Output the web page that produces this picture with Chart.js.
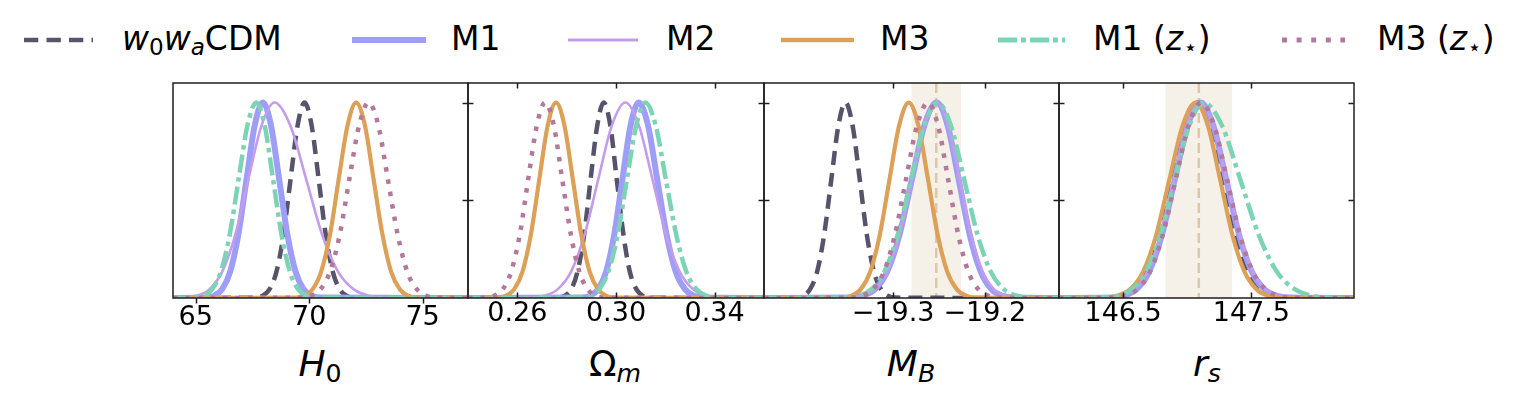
<!DOCTYPE html>
<html><head><meta charset="utf-8">
<script src="https://cdn.jsdelivr.net/npm/chart.js@4.4.0/dist/chart.umd.min.js"></script>
<style>
html,body{margin:0;padding:0;background:#fff;}
body{width:1528px;height:395px;position:relative;overflow:hidden;font-family:'DejaVu Sans',sans-serif;color:#000;}
.ls{position:absolute;top:33px;}
.lt{position:absolute;top:22px;font-size:33px;line-height:1;white-space:nowrap;}
.ax{position:absolute;top:346px;font-size:36px;line-height:1;white-space:nowrap;transform:translateX(-50%);}
sub{font-size:70%;vertical-align:-0.22em;line-height:0;}
i{font-style:italic;}
</style></head>
<body>
<!-- legend -->
<svg class="ls" style="left:24px" width="72" height="14"><line x1="0" y1="7" x2="69" y2="7" stroke="#56536b" stroke-width="4.5" stroke-dasharray="14.3 8.2"/></svg>
<div class="lt" style="left:122px"><i>w</i><sub>0</sub><i>w</i><sub><i>a</i></sub>CDM</div>
<svg class="ls" style="left:352px" width="76" height="14"><line x1="0" y1="7" x2="74" y2="7" stroke="#9e9ef8" stroke-width="6"/></svg>
<div class="lt" style="left:451px">M1</div>
<svg class="ls" style="left:568px" width="72" height="14"><line x1="0" y1="7" x2="70" y2="7" stroke="#c49cea" stroke-width="2.8"/></svg>
<div class="lt" style="left:666px">M2</div>
<svg class="ls" style="left:781px" width="75" height="14"><line x1="0" y1="7" x2="73" y2="7" stroke="#dda058" stroke-width="4.5"/></svg>
<div class="lt" style="left:880px">M3</div>
<svg class="ls" style="left:998px" width="70" height="14"><line x1="0" y1="7" x2="67" y2="7" stroke="#7dd3b5" stroke-width="5" stroke-dasharray="19 4 5 4"/></svg>
<div class="lt" style="left:1093px">M1 (<i>z</i><sub>⋆</sub>)</div>
<svg class="ls" style="left:1282px" width="66" height="14"><line x1="0" y1="7" x2="63" y2="7" stroke="#b4789c" stroke-width="5" stroke-dasharray="5 9.6"/></svg>
<div class="lt" style="left:1377px">M3 (<i>z</i><sub>⋆</sub>)</div>
<!-- axis labels -->
<div class="ax" style="left:320px"><i>H</i><sub>0</sub></div>
<div class="ax" style="left:615px">Ω<sub><i>m</i></sub></div>
<div class="ax" style="left:911px"><i>M</i><sub><i>B</i></sub></div>
<div class="ax" style="left:1207px"><i>r</i><sub><i>s</i></sub></div>
<script>
// ---------------- data ----------------
const seriesNames = ['w0waCDM', 'M1', 'M2', 'M3', 'M1 (z*)', 'M3 (z*)'];

// H0 panel
const h0Ticks = [65, 70, 75];
const h0TickLabels = ['65', '70', '75'];
const H0_w0wa = [[64,0],[67.63,0.002],[67.94,0.011],[68.25,0.044],[68.56,0.135],[68.87,0.325],[69.18,0.607],[69.49,0.882],[69.80,1],[70.11,0.882],[70.42,0.607],[70.73,0.325],[71.04,0.135],[71.35,0.044],[71.66,0.011],[71.97,0.002],[77,0]];
const H0_M1 = [[64,0],[65.44,0.002],[65.80,0.011],[66.16,0.044],[66.52,0.135],[66.88,0.325],[67.24,0.607],[67.60,0.882],[67.96,1],[68.32,0.882],[68.68,0.607],[69.04,0.325],[69.40,0.135],[69.76,0.044],[70.12,0.011],[70.48,0.002],[77,0]];
const H0_M2 = [[64,0],[64.45,0.002],[65.02,0.011],[65.60,0.044],[66.17,0.135],[66.75,0.325],[67.32,0.607],[67.90,0.882],[68.47,1],[69.17,0.882],[69.87,0.607],[70.57,0.325],[71.27,0.135],[71.97,0.044],[72.67,0.011],[73.37,0.002],[77,0]];
const H0_M3 = [[64,0],[69.38,0.002],[69.76,0.011],[70.15,0.044],[70.53,0.135],[70.92,0.325],[71.30,0.607],[71.69,0.882],[72.07,1],[72.46,0.882],[72.84,0.607],[73.23,0.325],[73.61,0.135],[74.00,0.044],[74.38,0.011],[74.77,0.002],[77,0]];
const H0_M1z = [[64,0],[64.94,0.002],[65.33,0.011],[65.72,0.044],[66.11,0.135],[66.50,0.325],[66.89,0.607],[67.28,0.882],[67.67,1],[68.04,0.882],[68.41,0.607],[68.78,0.325],[69.15,0.135],[69.52,0.044],[69.89,0.011],[70.26,0.002],[77,0]];
const H0_M3z = [[64,0],[69.65,0.002],[70.07,0.011],[70.50,0.044],[70.92,0.135],[71.35,0.325],[71.77,0.607],[72.20,0.882],[72.62,1],[73.05,0.882],[73.47,0.607],[73.90,0.325],[74.32,0.135],[74.75,0.044],[75.17,0.011],[75.60,0.002],[77,0]];

// Omega_m panel
const omTicks = [0.26, 0.30, 0.34];
const omTickLabels = ['0.26', '0.30', '0.34'];
const Om_w0wa = [[0.24,0],[0.2765,0.002],[0.2791,0.011],[0.2818,0.044],[0.2844,0.135],[0.2871,0.325],[0.2897,0.607],[0.2924,0.882],[0.2950,1],[0.2977,0.882],[0.3003,0.607],[0.3030,0.325],[0.3056,0.135],[0.3083,0.044],[0.3109,0.011],[0.3136,0.002],[0.36,0]];
const Om_M1 = [[0.24,0],[0.2861,0.002],[0.2894,0.011],[0.2927,0.044],[0.2960,0.135],[0.2993,0.325],[0.3026,0.607],[0.3059,0.882],[0.3092,1],[0.3130,0.882],[0.3167,0.607],[0.3205,0.325],[0.3242,0.135],[0.3280,0.044],[0.3317,0.011],[0.3355,0.002],[0.36,0]];
const Om_M2 = [[0.24,0],[0.2653,0.002],[0.2708,0.011],[0.2763,0.044],[0.2818,0.135],[0.2873,0.325],[0.2928,0.607],[0.2983,0.882],[0.3038,1],[0.3093,0.882],[0.3148,0.607],[0.3203,0.325],[0.3258,0.135],[0.3313,0.044],[0.3368,0.011],[0.3423,0.002],[0.36,0]];
const Om_M3 = [[0.24,0],[0.2519,0.002],[0.2553,0.011],[0.2587,0.044],[0.2621,0.135],[0.2655,0.325],[0.2689,0.607],[0.2723,0.882],[0.2757,1],[0.2791,0.882],[0.2825,0.607],[0.2859,0.325],[0.2893,0.135],[0.2927,0.044],[0.2961,0.011],[0.2995,0.002],[0.36,0]];
const Om_M1z = [[0.24,0],[0.2857,0.002],[0.2894,0.011],[0.2932,0.044],[0.2969,0.135],[0.3007,0.325],[0.3044,0.607],[0.3082,0.882],[0.3119,1],[0.3161,0.882],[0.3202,0.607],[0.3244,0.325],[0.3285,0.135],[0.3327,0.044],[0.3368,0.011],[0.3410,0.002],[0.36,0]];
const Om_M3z = [[0.24,0],[0.2472,0.002],[0.2506,0.011],[0.2541,0.044],[0.2575,0.135],[0.2610,0.325],[0.2644,0.607],[0.2679,0.882],[0.2713,1],[0.2748,0.882],[0.2782,0.607],[0.2817,0.325],[0.2851,0.135],[0.2886,0.044],[0.2920,0.011],[0.2955,0.002],[0.36,0]];

// M_B panel
const mbTicks = [-19.3, -19.2];
const mbTickLabels = ['\u221219.3', '\u221219.2'];
const mbBand = [-19.253, 0.027];
const MB_w0wa = [[-19.441,0],[-19.4063,0.002],[-19.3985,0.011],[-19.3908,0.044],[-19.3830,0.135],[-19.3753,0.325],[-19.3675,0.607],[-19.3598,0.882],[-19.3520,1],[-19.3443,0.882],[-19.3365,0.607],[-19.3288,0.325],[-19.3210,0.135],[-19.3133,0.044],[-19.3055,0.011],[-19.2978,0.002],[-19.119,0]];
const MB_M1 = [[-19.441,0],[-19.3470,0.002],[-19.3335,0.011],[-19.3200,0.044],[-19.3065,0.135],[-19.2930,0.325],[-19.2795,0.607],[-19.2660,0.882],[-19.2525,1],[-19.2405,0.882],[-19.2285,0.607],[-19.2165,0.325],[-19.2045,0.135],[-19.1925,0.044],[-19.1805,0.011],[-19.1685,0.002],[-19.119,0]];
const MB_M2 = [[-19.441,0],[-19.3470,0.002],[-19.3335,0.011],[-19.3200,0.044],[-19.3065,0.135],[-19.2930,0.325],[-19.2795,0.607],[-19.2660,0.882],[-19.2525,1],[-19.2400,0.882],[-19.2275,0.607],[-19.2150,0.325],[-19.2025,0.135],[-19.1900,0.044],[-19.1775,0.011],[-19.1650,0.002],[-19.119,0]];
const MB_M3 = [[-19.441,0],[-19.3565,0.002],[-19.3460,0.011],[-19.3355,0.044],[-19.3250,0.135],[-19.3145,0.325],[-19.3040,0.607],[-19.2935,0.882],[-19.2830,1],[-19.2725,0.882],[-19.2620,0.607],[-19.2515,0.325],[-19.2410,0.135],[-19.2305,0.044],[-19.2200,0.011],[-19.2095,0.002],[-19.119,0]];
const MB_M1z = [[-19.441,0],[-19.3530,0.002],[-19.3385,0.011],[-19.3240,0.044],[-19.3095,0.135],[-19.2950,0.325],[-19.2805,0.607],[-19.2660,0.882],[-19.2515,1],[-19.2370,0.882],[-19.2225,0.607],[-19.2080,0.325],[-19.1935,0.135],[-19.1790,0.044],[-19.1645,0.011],[-19.1500,0.002],[-19.119,0]];
const MB_M3z = [[-19.441,0],[-19.346,0.002],[-19.334,0.011],[-19.322,0.044],[-19.310,0.135],[-19.298,0.325],[-19.286,0.607],[-19.274,0.882],[-19.262,1],[-19.251,0.882],[-19.240,0.607],[-19.229,0.325],[-19.218,0.135],[-19.207,0.044],[-19.196,0.011],[-19.185,0.002],[-19.119,0]];

// r_s panel
const rsTicks = [146.5, 147.5];
const rsTickLabels = ['146.5', '147.5'];
const rsBand = [147.09, 0.26];
const RS_w0wa = [[146,0],[146.398,0.002],[146.495,0.011],[146.593,0.044],[146.690,0.135],[146.788,0.325],[146.885,0.607],[146.983,0.882],[147.080,1],[147.178,0.882],[147.275,0.607],[147.373,0.325],[147.470,0.135],[147.568,0.044],[147.665,0.011],[147.763,0.002],[148.3,0]];
const RS_M1 = [[146,0],[146.403,0.002],[146.503,0.011],[146.603,0.044],[146.703,0.135],[146.803,0.325],[146.903,0.607],[147.003,0.882],[147.103,1],[147.203,0.882],[147.303,0.607],[147.403,0.325],[147.503,0.135],[147.603,0.044],[147.703,0.011],[147.803,0.002],[148.3,0]];
const RS_M2 = [[146,0],[146.383,0.002],[146.485,0.011],[146.588,0.044],[146.690,0.135],[146.793,0.325],[146.895,0.607],[146.998,0.882],[147.100,1],[147.203,0.882],[147.305,0.607],[147.408,0.325],[147.510,0.135],[147.613,0.044],[147.715,0.011],[147.818,0.002],[148.3,0]];
const RS_M3 = [[146,0],[146.349,0.002],[146.451,0.011],[146.554,0.044],[146.656,0.135],[146.759,0.325],[146.861,0.607],[146.964,0.882],[147.066,1],[147.161,0.882],[147.256,0.607],[147.351,0.325],[147.446,0.135],[147.541,0.044],[147.636,0.011],[147.731,0.002],[148.3,0]];
const RS_M1z = [[146,0],[146.341,0.002],[146.453,0.011],[146.566,0.044],[146.678,0.135],[146.791,0.325],[146.903,0.607],[147.016,0.882],[147.128,1],[147.271,0.882],[147.413,0.607],[147.556,0.325],[147.698,0.135],[147.841,0.044],[147.983,0.011],[148.126,0.002],[148.3,0]];
const RS_M3z = [[146,0],[146.41,0.002],[146.51,0.011],[146.61,0.044],[146.71,0.135],[146.81,0.325],[146.91,0.607],[147.01,0.882],[147.11,1],[147.21,0.882],[147.31,0.607],[147.41,0.325],[147.51,0.135],[147.61,0.044],[147.71,0.011],[147.81,0.002],[148.3,0]];

const yTickVals = [0.5, 1.0];

// ---------------- styles ----------------
const seriesStyles = [
  {color:'#56536b', width:4.5, dash:[14,8]},
  {color:'#9e9ef8', width:6,   dash:[]},
  {color:'#c49cea', width:2.6, dash:[]},
  {color:'#dda058', width:4.2, dash:[]},
  {color:'#7dd3b5', width:4.5, dash:[18,5,4.5,5]},
  {color:'#b4789c', width:4.5, dash:[4.5,8]}
];

const panels = [
  {left:173, right:468, xMin:64, xMax:77, ticks:h0Ticks, labels:h0TickLabels, curves:[H0_w0wa,H0_M1,H0_M2,H0_M3,H0_M1z,H0_M3z], band:null, outward:true, leftTicks:false},
  {left:468, right:764, xMin:0.24, xMax:0.36, ticks:omTicks, labels:omTickLabels, curves:[Om_w0wa,Om_M1,Om_M2,Om_M3,Om_M1z,Om_M3z], band:null, outward:false, leftTicks:true},
  {left:764, right:1059, xMin:-19.441, xMax:-19.119, ticks:mbTicks, labels:mbTickLabels, curves:[MB_w0wa,MB_M1,MB_M2,MB_M3,MB_M1z,MB_M3z], band:mbBand, outward:false, leftTicks:true},
  {left:1059, right:1354, xMin:146.0, xMax:148.3, ticks:rsTicks, labels:rsTickLabels, curves:[RS_w0wa,RS_M1,RS_M2,RS_M3,RS_M1z,RS_M3z], band:rsBand, outward:false, leftTicks:true}
];

const TL = 5.5;
const framePlugin = {
  id: 'frame',
  beforeDatasetsDraw(chart, args, o) {
    if (!o.band) return;
    const {ctx, chartArea: a} = chart;
    const x = chart.scales.x;
    const x0 = x.getPixelForValue(o.band[0] - o.band[1]);
    const x1 = x.getPixelForValue(o.band[0] + o.band[1]);
    const xc = x.getPixelForValue(o.band[0]);
    ctx.save();
    ctx.fillStyle = '#f5f1e8';
    ctx.fillRect(x0, a.top, x1 - x0, a.bottom - a.top);
    ctx.strokeStyle = '#dcc8a4';
    ctx.lineWidth = 2.5;
    ctx.setLineDash([10, 5]);
    ctx.beginPath(); ctx.moveTo(xc, a.top); ctx.lineTo(xc, a.bottom); ctx.stroke();
    ctx.restore();
  },
  afterDatasetsDraw(chart, args, o) {
    const {ctx, chartArea: a} = chart;
    const x = chart.scales.x, y = chart.scales.y;
    ctx.save();
    ctx.strokeStyle = '#1e1e1e';
    ctx.lineWidth = 1.5;
    ctx.setLineDash([]);
    ctx.strokeRect(a.left, a.top, a.right - a.left, a.bottom - a.top);
    ctx.beginPath();
    o.ticks.forEach(v => {
      const px = Math.round(x.getPixelForValue(v)) + 0.5;
      if (o.outward) { ctx.moveTo(px, a.bottom); ctx.lineTo(px, a.bottom + TL); }
      else {
        ctx.moveTo(px, a.bottom); ctx.lineTo(px, a.bottom - TL);
        ctx.moveTo(px, a.top); ctx.lineTo(px, a.top + TL);
      }
    });
    yTickVals.forEach(v => {
      const py = Math.round(y.getPixelForValue(v)) + 0.5;
      if (o.leftTicks) { ctx.moveTo(a.left, py); ctx.lineTo(a.left + TL, py); }
      ctx.moveTo(a.right, py); ctx.lineTo(a.right - TL, py);
    });
    ctx.stroke();
    ctx.restore();
  }
};

const PAD = 12, AXH = 50, TOP = 83, PLOT_H = 215;
panels.forEach(p => {
  const w = p.right - p.left + 2 * PAD, h = PAD + PLOT_H + AXH;
  const cv = document.createElement('canvas');
  cv.width = w; cv.height = h;
  cv.style.cssText = `position:absolute;left:${p.left - PAD}px;top:${TOP - PAD}px;width:${w}px;height:${h}px;`;
  document.body.appendChild(cv);
  new Chart(cv, {
    type: 'line',
    data: {
      datasets: p.curves.map((c, i) => ({
        label: seriesNames[i],
        data: c.map(([xv, yv]) => ({x: xv, y: yv})),
        borderColor: seriesStyles[i].color,
        borderWidth: seriesStyles[i].width,
        borderDash: seriesStyles[i].dash,
        pointRadius: 0,
        fill: false,
        cubicInterpolationMode: 'monotone',
        order: 10 - i
      }))
    },
    options: {
      responsive: false,
      animation: false,
      devicePixelRatio: 1,
      events: [],
      layout: {padding: {left: PAD, right: PAD, top: PAD, bottom: 0}},
      plugins: {
        legend: {display: false},
        tooltip: {enabled: false},
        frame: {band: p.band, ticks: p.ticks, outward: p.outward, leftTicks: p.leftTicks}
      },
      scales: {
        x: {
          type: 'linear', min: p.xMin, max: p.xMax,
          grid: {display: false, drawTicks: false},
          border: {display: false},
          afterBuildTicks: s => { s.ticks = p.ticks.map(v => ({value: v})); },
          afterFit: s => { s.height = AXH; },
          ticks: {
            callback: (v, i) => p.labels[i],
            padding: p.outward ? 4 : 0,
            font: {family: 'DejaVu Sans', size: 27},
            color: '#000', maxRotation: 0, minRotation: 0, autoSkip: false
          }
        },
        y: {type: 'linear', display: false, min: 0, max: 1.1}
      }
    },
    plugins: [framePlugin]
  });
});
</script>
</body></html>
